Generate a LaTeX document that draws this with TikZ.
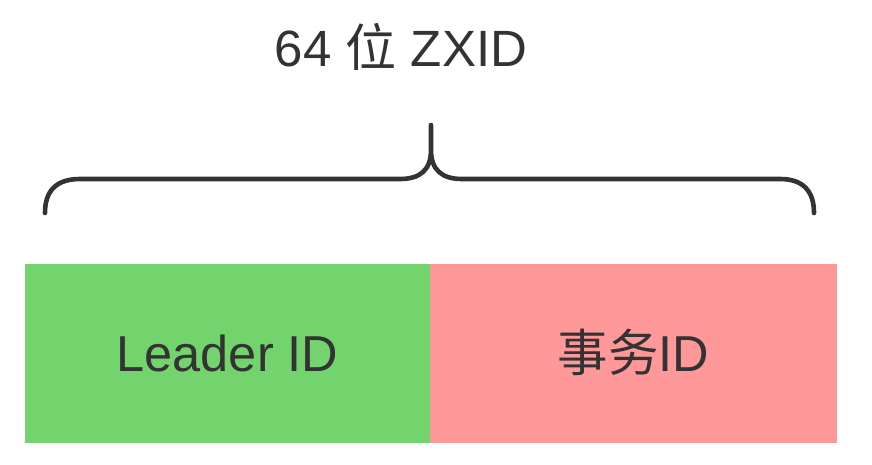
\documentclass[tikz,border=0pt]{standalone}
\usepackage{fontspec}
\setmainfont{Liberation Sans}
\newfontfamily\cjk{Noto Sans CJK SC}
\definecolor{txt}{HTML}{333333}
\definecolor{gfill}{HTML}{73D36C}
\definecolor{rfill}{HTML}{FF9999}
\begin{document}
\begin{tikzpicture}[x=1pt,y=-1pt,
  field/.style={draw=none, minimum height=179pt, inner sep=0pt, outer sep=0pt,
    font=\fontsize{50.5}{60}\selectfont, text=txt, text height=36pt, text depth=0pt},
  brace/.style={draw=txt, line width=4.6pt, line cap=round, line join=round}]
\useasboundingbox[fill=white] (0,0) rectangle (872,464);
\node[field, fill=gfill, minimum width=405pt] (lead) at (227.5,353.5) {Leader ID};
\node[field, fill=rfill, minimum width=407pt] (tx) at (633.5,353.5) {{\cjk 事务}ID};
\node[anchor=base, text=txt, font=\fontsize{51}{60}\selectfont, inner sep=0pt] (title) at (401,66) {64 {\cjk 位} ZXID};
\coordinate (bl) at (45,213);
\coordinate (tip) at (431,125);
\coordinate (br) at (814,213);
\draw[brace] (bl) .. controls (45,190) and (57,179) .. (80,179) -- (400,179)
  .. controls (420,179) and (431,170) .. (431,150) -- (tip)
  -- (431,150) .. controls (431,170) and (442,179) .. (462,179) -- (780,179)
  .. controls (802,179) and (814,190) .. (br);
\end{tikzpicture}
\end{document}
